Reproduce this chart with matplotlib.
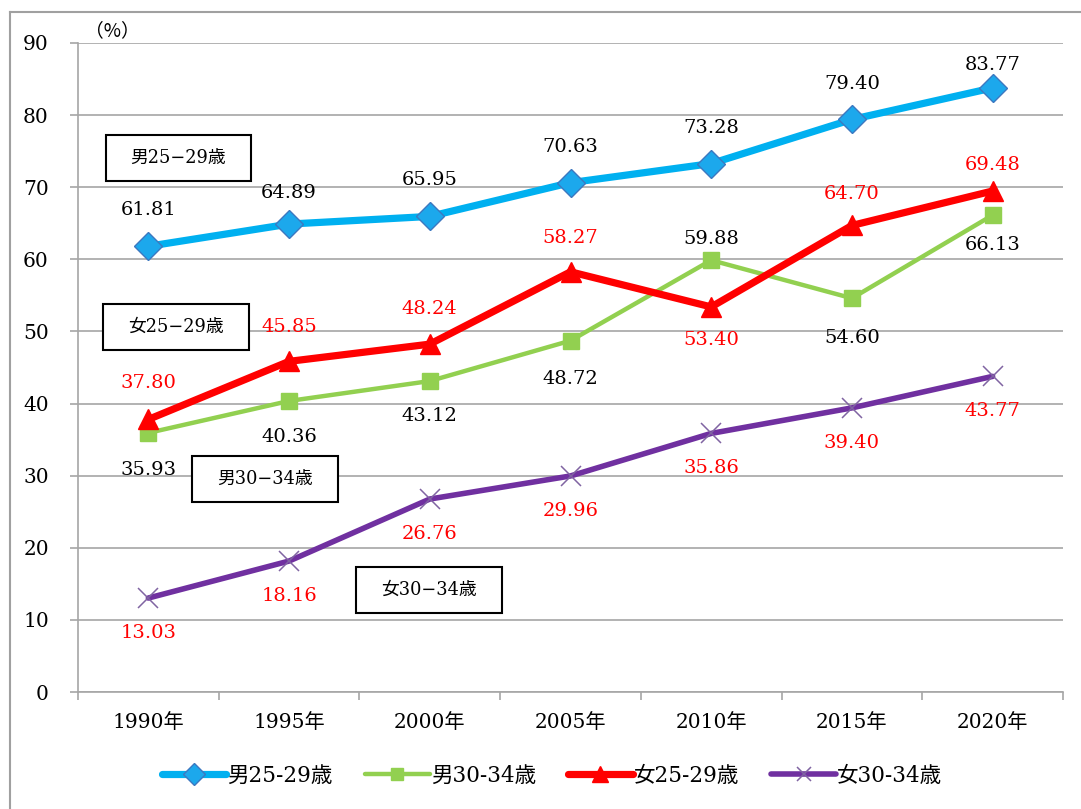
import matplotlib
matplotlib.use('Agg')
import matplotlib.pyplot as plt
from matplotlib.lines import Line2D
from matplotlib.patches import Rectangle

# ---------------- data ----------------
years = ['1990年', '1995年', '2000年', '2005年', '2010年', '2015年', '2020年']
male_25_29 = [61.81, 64.89, 65.95, 70.63, 73.28, 79.40, 83.77]
male_30_34 = [35.93, 40.36, 43.12, 48.72, 59.88, 54.60, 66.13]
female_25_29 = [37.80, 45.85, 48.24, 58.27, 53.40, 64.70, 69.48]
female_30_34 = [13.03, 18.16, 26.76, 29.96, 35.86, 39.40, 43.77]
series_names = ['男25-29歳', '男30-34歳', '女25-29歳', '女30-34歳']
box_labels = ['男25−29歳', '女25−29歳', '男30−34歳', '女30−34歳']
yticks = [0, 10, 20, 30, 40, 50, 60, 70, 80, 90]

FONT = ['DejaVu Serif', 'Noto Sans CJK JP']
plt.rcParams['font.family'] = FONT

W, H = 1081, 809
fig = plt.figure(figsize=(W / 100, H / 100), dpi=100)
ax = fig.add_axes([78 / W, 1 - 692 / H, (1063 - 78) / W, (692 - 43) / H])

x = list(range(len(years)))
GRID = '#A6A6A6'

# series styles
styles = [
    dict(color='#00B0F0', lw=5.2, marker='D', ms=14.5, mfc='#1CA8EC', mec='#3C78C0', mew=1.0, zorder=5),
    dict(color='#92D050', lw=3.2, marker='s', ms=12, mfc='#92D050', mec='#92D050', mew=1.0, zorder=4),
    dict(color='#FF0000', lw=5.2, marker='^', ms=15, mfc='#FF0000', mec='#FF0000', mew=1.0, zorder=6),
    dict(color='#7030A0', lw=4.0, marker='x', ms=14, mfc='#8064A2', mec='#8064A2', mew=1.1, zorder=3),
]
data = [male_25_29, male_30_34, female_25_29, female_30_34]
handles = []
for vals, st, name in zip(data, styles, series_names):
    ln, = ax.plot(x, vals, color=st['color'], lw=st['lw'], marker=st['marker'],
                  markersize=st['ms'], markerfacecolor=st['mfc'],
                  markeredgecolor=st['mec'], markeredgewidth=st['mew'],
                  zorder=st['zorder'], solid_capstyle='round', label=name)
    handles.append(ln)

# label offsets (pixels; negative = above)
label_dy = [
    [-36, -31, -36, -36, -36, -35, -23],
    [37, 36, 35, 38, -21, 40, 30],
    [-36, -34, -35, -34, 33, -31, -26],
    [35, 35, 35, 35, 35, 35, 35],
]
label_colors = ['black', 'black', 'red', 'red']
for vals, dys, col in zip(data, label_dy, label_colors):
    for xi, v, dy in zip(x, vals, dys):
        ax.annotate(f'{v:.2f}', (xi, v), xytext=(0, -dy * 0.72), textcoords='offset points',
                    ha='center', va='center', fontsize=14, color=col,
                    family=FONT, zorder=10)

ax.set_xlim(-0.5, len(years) - 0.5)
ax.set_ylim(0, 90)
ax.set_yticks(yticks)
ax.set_xticks(x)
ax.set_xticklabels(years, fontsize=14.5, family=FONT)
ax.set_xticks([i - 0.5 for i in range(len(years) + 1)], minor=True)
ax.tick_params(axis='x', which='major', length=0, pad=15)
ax.tick_params(axis='x', which='minor', length=6, color=GRID, width=1.2)
ax.tick_params(axis='y', which='major', length=6, color=GRID, width=1.2, pad=15, labelsize=14.5)
for lab in ax.get_yticklabels():
    lab.set_family(FONT)

ax.yaxis.grid(True, color=GRID, lw=1.2, zorder=0)
ax.set_axisbelow(True)
for s in ['top', 'right']:
    ax.spines[s].set_visible(False)
for s in ['left', 'bottom']:
    ax.spines[s].set_color(GRID)
    ax.spines[s].set_linewidth(1.2)

# (%) label
fig.text(112 / W, 1 - 31 / H, '（%）', ha='center', va='center', fontsize=13.5,
         family=['Noto Sans CJK JP', 'DejaVu Serif'])

# boxed series labels
box_centers = [(178.5, 158), (176, 327), (265, 478.5), (428.5, 590)]
bw, bh = 146, 46
for (cx, cy), txt in zip(box_centers, box_labels):
    fig.patches.append(Rectangle(((cx - bw / 2) / W, 1 - (cy + bh / 2) / H), bw / W, bh / H,
                                 transform=fig.transFigure, facecolor='white',
                                 edgecolor='black', lw=1.5, zorder=20))
    fig.text(cx / W, 1 - cy / H, txt, ha='center', va='center', fontsize=12.8,
             family=FONT, zorder=21)

# legend
leg = fig.legend(handles=handles, loc='center', bbox_to_anchor=(552 / W, 1 - 776 / H),
                 ncol=4, frameon=False, handlelength=3.0,
                 columnspacing=1.5, handletextpad=0.05, markerscale=0.75,
                 prop={'family': FONT, 'size': 15.5})

# outer figure border (left and top)
fig.add_artist(Line2D([10 / W, 10 / W], [0, 1 - 12 / H], transform=fig.transFigure, color='#A0A0A0', lw=1.5))
fig.add_artist(Line2D([10 / W, 1], [1 - 12 / H, 1 - 12 / H], transform=fig.transFigure, color='#A0A0A0', lw=1.5))

fig.savefig('out.png', dpi=100)
